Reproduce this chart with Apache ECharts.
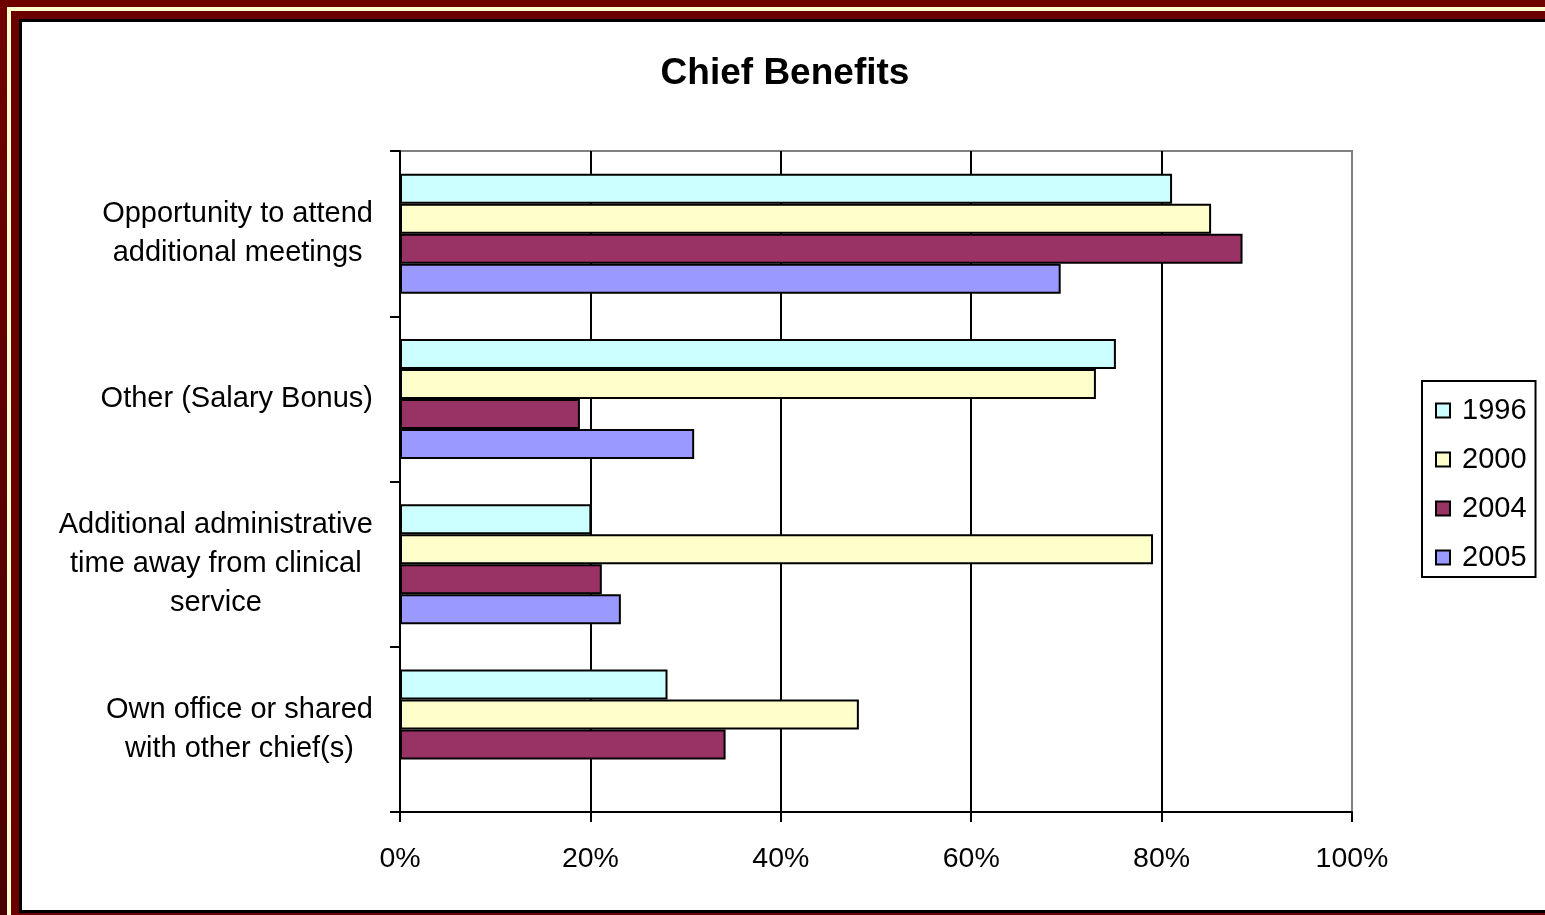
<!DOCTYPE html>
<html>
<head>
<meta charset="utf-8">
<script src="https://cdn.jsdelivr.net/npm/echarts@6/dist/echarts.min.js"></script>
<style>
  html, body { margin: 0; padding: 0; width: 1545px; height: 915px; overflow: hidden; }
  body { background: linear-gradient(#700000, #4a0000); position: relative; }
  #stripe { position: absolute; left: 7px; top: 7px; width: 1600px; height: 1000px;
    border-left: 4px solid #ffffcc; border-top: 4px solid #ffffcc; background: #6a0000; }
  #panel { position: absolute; left: 19px; top: 19px; width: 1600px; height: 888px;
    border: 3px solid #000; border-right: none; background: #fff; }
  #chart { position: absolute; left: 0; top: 0; width: 1545px; height: 915px; }
</style>
</head>
<body>
<div id="stripe"></div>
<div id="panel"></div>
<div id="chart"></div>
<script>
var categories = [
  "Opportunity to attend\nadditional meetings",
  "Other (Salary Bonus)",
  "Additional administrative\ntime away from clinical\nservice",
  "Own office or shared\nwith other chief(s)"
];
var years = ["1996", "2000", "2004", "2005"];
var values1996 = [81.1, 75.2, 20.1, 28.1];
var values2000 = [85.2, 73.1, 79.1, 48.2];
var values2004 = [88.5, 18.9, 21.2, 34.2];
var values2005 = [69.4, 30.9, 23.2, null];
var xTicks = [0, 20, 40, 60, 80, 100];

var colors = ["#ccffff", "#ffffcc", "#993366", "#9999ff"];
var allValues = [values1996, values2000, values2004, values2005];

var myChart = echarts.init(document.getElementById("chart"));

var series = years.map(function (y, i) {
  return {
    name: y,
    type: "bar",
    data: allValues[i],
    barWidth: 30,
    barGap: "0%",
    itemStyle: { color: colors[i], borderColor: "#000", borderWidth: 2 }
  };
});

var option = {
  animation: false,
  textStyle: { fontFamily: "Liberation Sans, Arial, sans-serif" },
  title: {
    text: "Chief Benefits",
    left: 780,
    top: 50,
    textAlign: "center",
    textStyle: { fontSize: 37, fontWeight: "bold", color: "#000" }
  },
  legend: {
    orient: "vertical",
    left: 1422,
    top: 381,
    data: years,
    icon: "rect",
    itemWidth: 14,
    itemHeight: 14,
    itemGap: 20,
    padding: [15, 9, 5, 13],
    borderColor: "#000",
    borderWidth: 2,
    textStyle: { fontSize: 29, color: "#000", padding: [0, 0, 0, 7] }
  },
  grid: {
    left: 400,
    right: 193,
    top: 151,
    bottom: 103,
    containLabel: false,
    show: true,
    borderColor: "#808080",
    borderWidth: 2
  },
  xAxis: {
    type: "value",
    min: xTicks[0],
    max: xTicks[xTicks.length - 1],
    interval: 20,
    axisLine: { show: true, lineStyle: { color: "#000", width: 2 } },
    axisTick: { show: true, length: 10, lineStyle: { color: "#000", width: 2 } },
    axisLabel: { formatter: "{value}%", fontSize: 28.5, color: "#000", margin: 33 },
    splitLine: {
      show: true,
      lineStyle: { color: ["#000", "#000", "#000", "#000", "#000", "#808080"], width: 2 }
    }
  },
  yAxis: {
    type: "category",
    inverse: true,
    data: categories,
    axisLine: { show: true, lineStyle: { color: "#000", width: 2 } },
    axisTick: { show: true, length: 10, lineStyle: { color: "#000", width: 2 } },
    axisLabel: {
      margin: 27,
      color: "#000",
      fontSize: 29,
      lineHeight: 39,
      formatter: function (value) {
        return value.split("\n").map(function (l) { return "{c|" + l + "}"; }).join("\n");
      },
      rich: { c: { fontSize: 29, lineHeight: 39, align: "center", color: "#000" } }
    }
  },
  series: series
};

myChart.setOption(option);
</script>
</body>
</html>
